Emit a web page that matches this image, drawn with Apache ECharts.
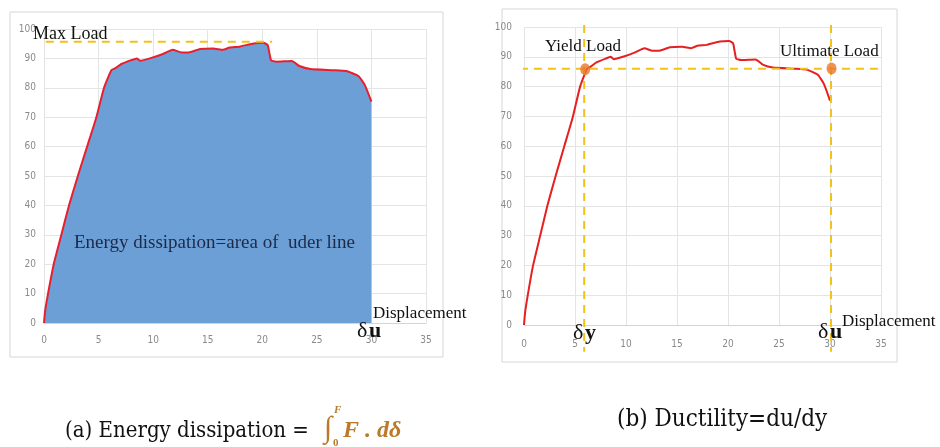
<!DOCTYPE html>
<html>
<head>
<meta charset="utf-8">
<script src="https://cdn.jsdelivr.net/npm/echarts@6/dist/echarts.min.js"></script>
<style>
  html, body { margin: 0; padding: 0; background: #fff; }
  #chart { width: 940px; height: 447px; }
</style>
</head>
<body>
<div id="chart"></div>
<script>
// load-displacement curve (same test, shown twice)
var dispX = [0, 0.1, 0.37, 0.89, 1.59, 2.29, 3.1, 3.95, 4.8, 5.5, 6.17, 6.5, 7.1, 8.0, 8.5, 8.8, 9.7, 10.9, 11.8, 12.6, 13.2, 14.3, 15.5, 16.4, 17.0, 17.9, 19.2, 20.1, 20.5, 20.8, 21.3, 22.7, 23.4, 24.4, 26.5, 27.7, 28.8, 29.4, 30.0];
var loadY = [0, 4, 10, 20, 30, 40, 50, 60, 70, 80, 86, 86.6, 88.1, 89.4, 90.0, 89.2, 90, 91.5, 92.9, 92, 92, 93.2, 93.4, 92.9, 93.7, 94, 95.1, 95.3, 94.5, 89.4, 88.9, 89.1, 87.4, 86.4, 86, 85.7, 84, 80.9, 75.3];

// reference lines / points
var maxLoad = 95.7;
var maxLoadFrom = -2.4, maxLoadTo = 20.9;
var yieldLoad = 86;
var yieldFrom = -0.4, yieldTo = 37.3;
var deltaY = 5.9, deltaU = 30.1;
var vTop = 100.7, vBottom = -9;
var yieldPoint = [6.0, 85.8];
var ultimatePoint = [30.15, 86.1];

// axes
var xMin = 0, xMax = 35, xStep = 5;
var yMin = 0, yMax = 100, yStep = 10;

var curve = dispX.map(function (x, i) { return [x, loadY[i]]; });

var tickFont = '"Liberation Sans Narrow", "DejaVu Sans Condensed", sans-serif';
var serif = '"Liberation Serif", "DejaVu Serif", serif';
var capFont = '"DejaVu Serif Condensed", "DejaVu Serif", serif';
var dashCol = '#f2c21a';
var ochre = '#b97a2a';

function xAx(idx) {
  return {
    type: 'value', gridIndex: idx, min: xMin, max: xMax, interval: xStep,
    axisLine: { show: true, lineStyle: { color: '#d4d4d4' } },
    axisTick: { show: false },
    splitLine: { show: true, lineStyle: { color: '#e4e4e4' } },
    axisLabel: { color: '#8a8a8a', fontSize: 10, fontFamily: tickFont, margin: idx ? 14 : 12 }
  };
}
function yAx(idx) {
  return {
    type: 'value', gridIndex: idx, min: yMin, max: yMax, interval: yStep,
    axisLine: { show: false },
    axisTick: { show: false },
    splitLine: { show: true, lineStyle: { color: '#e4e4e4' } },
    axisLabel: { color: '#8a8a8a', fontSize: 10, fontFamily: tickFont, margin: idx ? 12 : 8 }
  };
}
function dashLine(idx, pts) {
  return {
    type: 'line', xAxisIndex: idx, yAxisIndex: idx, data: pts,
    symbol: 'none', clip: false, silent: true, z: 5,
    lineStyle: { color: dashCol, width: 2, type: [8, 6] }
  };
}
function txt(x, y, text, font, fill) {
  return { type: 'text', z: 100, style: { text: text, x: x, y: y, font: font, fill: fill,
    textAlign: 'left', align: 'left', textVerticalAlign: 'middle', verticalAlign: 'middle' } };
}

var myChart = echarts.init(document.getElementById('chart'));

myChart.setOption({
  animation: false,
  backgroundColor: '#fff',
  grid: [
    { left: 44, top: 29, width: 382, height: 294 },
    { left: 524, top: 27, width: 357, height: 298 }
  ],
  xAxis: [xAx(0), xAx(1)],
  yAxis: [yAx(0), yAx(1)],
  series: [
    {
      type: 'line', xAxisIndex: 0, yAxisIndex: 0, data: curve,
      smooth: 0.15, showSymbol: false, z: 3,
      lineStyle: { color: '#e8202e', width: 2 },
      areaStyle: { color: '#6c9fd5', opacity: 1 }
    },
    dashLine(0, [[maxLoadFrom, maxLoad], [maxLoadTo, maxLoad]]),
    {
      type: 'line', xAxisIndex: 1, yAxisIndex: 1, data: curve,
      smooth: 0.15, showSymbol: false, z: 3,
      lineStyle: { color: '#e42020', width: 2 }
    },
    dashLine(1, [[yieldFrom, yieldLoad], [yieldTo, yieldLoad]]),
    dashLine(1, [[deltaY, vTop], [deltaY, vBottom]]),
    dashLine(1, [[deltaU, vTop], [deltaU, vBottom]]),
    {
      type: 'scatter', xAxisIndex: 1, yAxisIndex: 1, z: 6,
      data: [yieldPoint, ultimatePoint],
      symbolSize: [10, 12],
      itemStyle: { color: '#e9782e' }
    }
  ],
  graphic: [
    { type: 'rect', z: -1, shape: { x: 10, y: 12, width: 433, height: 345 },
      style: { fill: 'none', stroke: '#d6d6d6', lineWidth: 1 } },
    { type: 'rect', z: -1, shape: { x: 502, y: 9, width: 395, height: 353 },
      style: { fill: 'none', stroke: '#d6d6d6', lineWidth: 1 } },

    txt(33, 34, 'Max Load', '18px ' + serif, '#111'),
    txt(74, 243, 'Energy dissipation=area of  uder line', '19px ' + serif, '#1c2a4a'),
    txt(373, 314, 'Displacement', '17px ' + serif, '#111'),
    txt(357, 331, 'δ', '22px ' + serif, '#111'),
    txt(369, 331, 'u', 'bold 22px ' + serif, '#111'),

    txt(545, 47, 'Yield Load', '17px ' + serif, '#111'),
    txt(780, 52, 'Ultimate Load', '17px ' + serif, '#111'),
    txt(573, 333, 'δ', '22px ' + serif, '#111'),
    txt(585, 333, 'y', 'bold 22px ' + serif, '#111'),
    txt(818, 332, 'δ', '22px ' + serif, '#111'),
    txt(830, 332, 'u', 'bold 22px ' + serif, '#111'),
    txt(842, 322, 'Displacement', '17px ' + serif, '#111'),

    txt(65, 431, '(a) Energy dissipation = ', '22px ' + capFont, '#111'),
    txt(324, 429, '∫', 'italic 30px ' + serif, ochre),
    txt(334, 410, 'F', 'italic bold 11px ' + serif, ochre),
    txt(333, 443, '0', 'bold 11px ' + serif, ochre),
    txt(343, 431, 'F . dδ', 'italic bold 24px ' + serif, ochre),

    txt(617, 420, '(b) Ductility=du/dy', '24px ' + capFont, '#111')
  ]
});
</script>
</body>
</html>
